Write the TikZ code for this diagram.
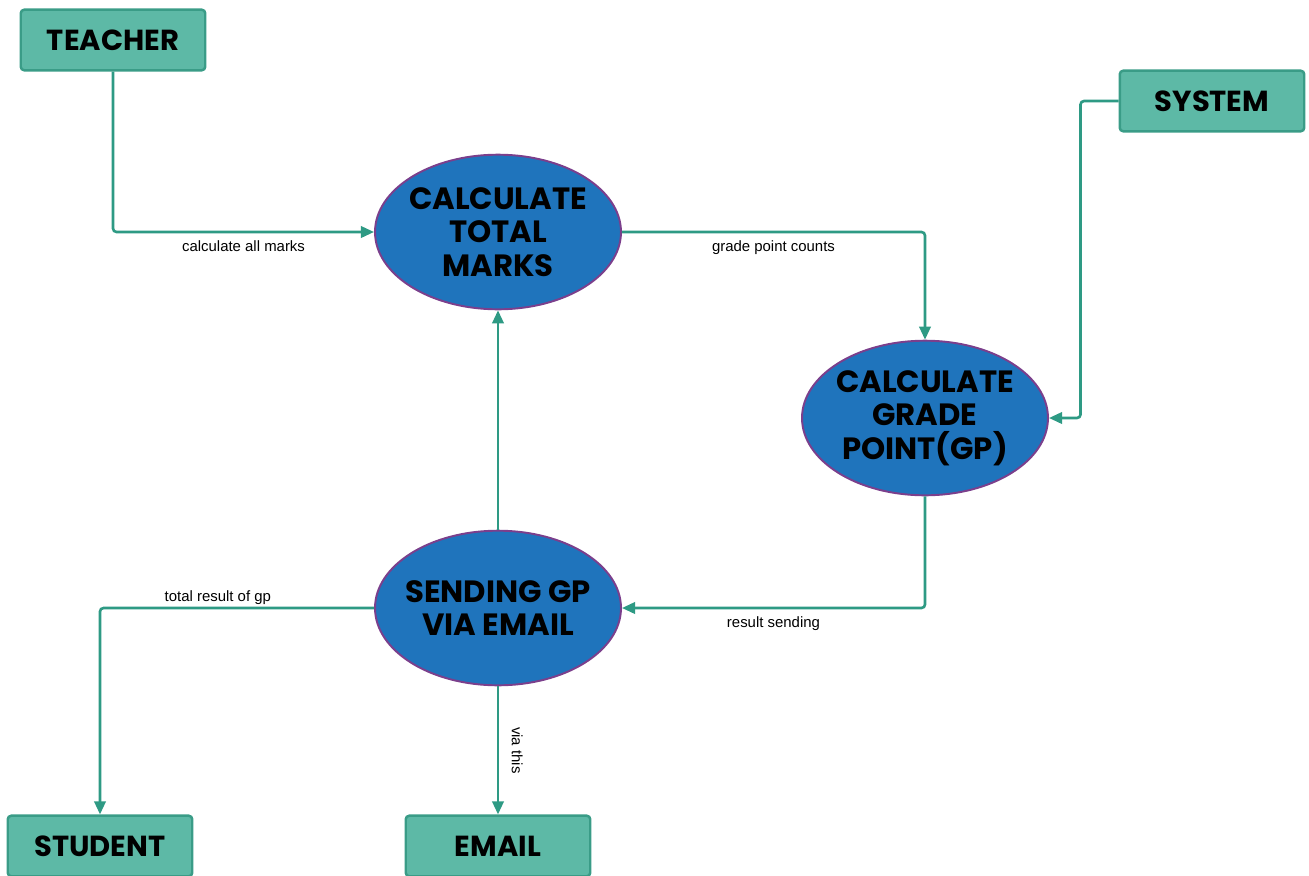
\documentclass[tikz,border=0pt]{standalone}
\usepackage{fontspec}
\setmainfont{Liberation Sans}
\newfontfamily\handfont{Poppins}
\usetikzlibrary{shapes.geometric}
\usetikzlibrary{arrows.meta}

\definecolor{boxfill}{HTML}{5DB9A6}
\definecolor{boxline}{HTML}{3A9C87}
\definecolor{procfill}{HTML}{1F74BC}
\definecolor{procline}{HTML}{7B3F8C}
\definecolor{flowcol}{HTML}{2E9A84}

\tikzset{
  entity/.style={draw=boxline, fill=boxfill, line width=1.4pt, rounded corners=2pt,
    minimum width=105pt, minimum height=34.5pt, inner sep=0pt,
    font=\handfont\bfseries\fontsize{16.5}{20}\selectfont},
  % negative sep keeps the ellipse at its minimum size around wide text
  process/.style={ellipse, draw=procline, fill=procfill, line width=1.1pt,
    minimum width=140pt, minimum height=88pt, inner xsep=-16pt, inner ysep=-8pt,
    align=center, font=\handfont\bfseries\fontsize{17.5}{19}\selectfont},
  flow/.style={flowcol, line width=1.5pt, rounded corners=2pt,
    -{Triangle[length=7.5pt,width=6.5pt]}},
  lbl/.style={font=\fontsize{8.5}{10}\selectfont, text=black, inner sep=4pt}
}

\begin{document}
\begin{tikzpicture}[x=0.02cm, y=-0.02cm]

\useasboundingbox (0,0) rectangle (1309,876);

\node[entity] (teacher) at (113,40) {TEACHER};
\node[entity] (system) at (1212,101) {SYSTEM};
\node[entity] (student) at (100,846) {STUDENT};
\node[entity] (email) at (498,846) {EMAIL};

\node[process] (total) at (498,232) {CALCULATE\\TOTAL\\MARKS};
\node[process] (grade) at (925,418) {CALCULATE\\GRADE\\POINT(GP)};
\node[process] (send) at (498,608) {SENDING GP\\VIA EMAIL};

\draw[flow] (teacher.south) |- (total.west) node[lbl, below, pos=0.75] {calculate all marks};
\draw[flow] (total.east) -| (grade.north) node[lbl, below, pos=0.25] {grade point counts};
\draw[flow] (system.west) -- +(-38,0) |- (grade.east);
\draw[flow] (grade.south) |- (send.east) node[lbl, below, pos=0.75] {result sending};
\draw[flow] (send.north) -- (total.south);
\draw[flow] (send.west) -| (student.north) node[lbl, above, pos=0.285, inner sep=1pt] {total result of gp};
\draw[flow] (send.south) -- (email.north) node[lbl, midway, anchor=south, rotate=-90, inner sep=7pt] {via this};

\end{tikzpicture}
\end{document}
